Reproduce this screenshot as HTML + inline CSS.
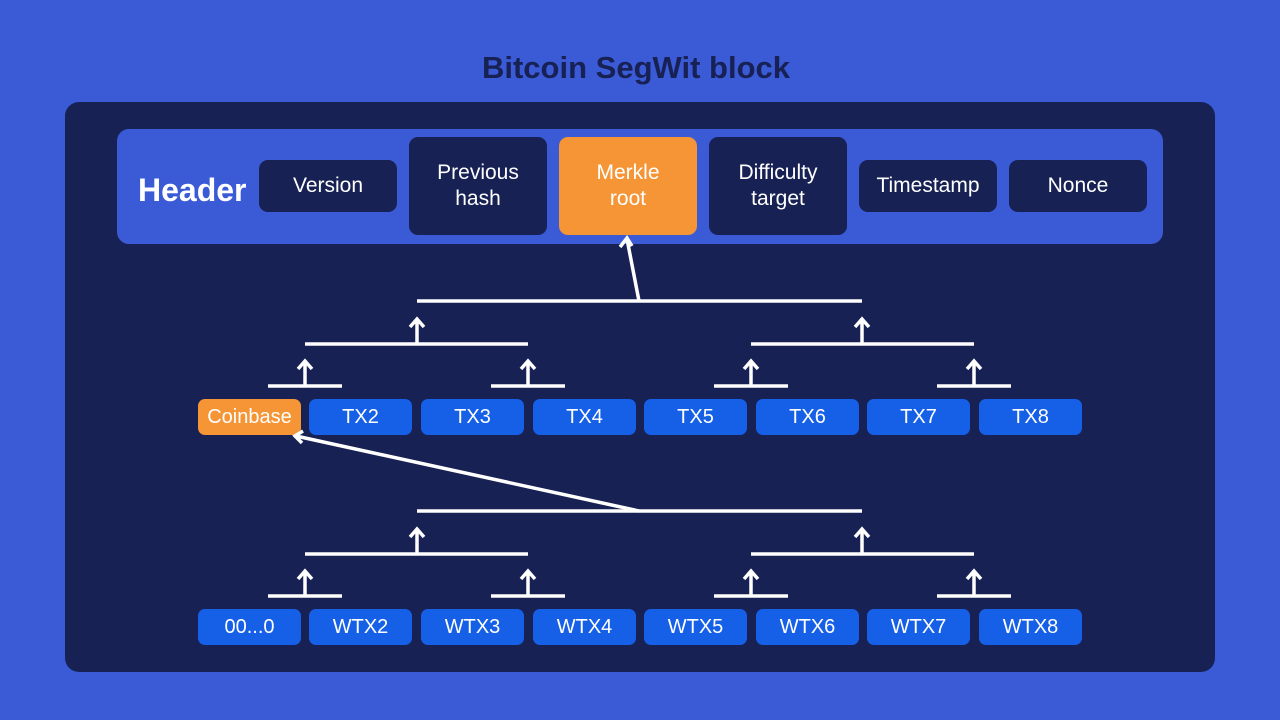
<!DOCTYPE html>
<html><head><style>
body{margin:0;width:1280px;height:720px;background:#3a5ad6;font-family:"Liberation Sans",sans-serif;position:relative;overflow:hidden}
.a{position:absolute}
.t{position:absolute;left:0;width:1272px;top:50px;text-align:center;font-weight:bold;font-size:31px;color:#172154}
.hb{position:absolute;background:#172154;color:#fff;border-radius:9px;display:flex;align-items:center;justify-content:center;text-align:center;font-size:21px;line-height:26px}
.tx{position:absolute;background:#1660e8;color:#fff;border-radius:7px;width:103px;height:36px;display:flex;align-items:center;justify-content:center;font-size:20px}
</style></head><body>
<div class="t">Bitcoin SegWit block</div>
<div class="a" style="left:65px;top:102px;width:1150px;height:570px;background:#172154;border-radius:14px"></div>
<div class="a" style="left:117px;top:129px;width:1046px;height:115px;background:#3a5ad6;border-radius:12px"></div>
<div class="a" style="left:138px;top:172px;color:#fff;font-weight:bold;font-size:32px">Header</div>
<div class="hb" style="left:259px;top:160px;width:138px;height:52px">Version</div>
<div class="hb" style="left:409px;top:137px;width:138px;height:98px">Previous<br>hash</div>
<div class="hb" style="left:559px;top:137px;width:138px;height:98px;background:#f59536">Merkle<br>root</div>
<div class="hb" style="left:709px;top:137px;width:138px;height:98px">Difficulty<br>target</div>
<div class="hb" style="left:859px;top:160px;width:138px;height:52px">Timestamp</div>
<div class="hb" style="left:1009px;top:160px;width:138px;height:52px">Nonce</div>

<div class="tx" style="left:198px;top:399px;background:#f59536">Coinbase</div>
<div class="tx" style="left:309px;top:399px">TX2</div>
<div class="tx" style="left:421px;top:399px">TX3</div>
<div class="tx" style="left:533px;top:399px">TX4</div>
<div class="tx" style="left:644px;top:399px">TX5</div>
<div class="tx" style="left:756px;top:399px">TX6</div>
<div class="tx" style="left:867px;top:399px">TX7</div>
<div class="tx" style="left:979px;top:399px">TX8</div>

<div class="tx" style="left:198px;top:609px">00...0</div>
<div class="tx" style="left:309px;top:609px">WTX2</div>
<div class="tx" style="left:421px;top:609px">WTX3</div>
<div class="tx" style="left:533px;top:609px">WTX4</div>
<div class="tx" style="left:644px;top:609px">WTX5</div>
<div class="tx" style="left:756px;top:609px">WTX6</div>
<div class="tx" style="left:867px;top:609px">WTX7</div>
<div class="tx" style="left:979px;top:609px">WTX8</div>

<svg class="a" style="left:0;top:0" width="1280" height="720" stroke="#fff" stroke-width="3.5" fill="none">
<defs><g id="tree">
<line x1="268" y1="386" x2="342" y2="386"/><line x1="491" y1="386" x2="565" y2="386"/>
<line x1="714" y1="386" x2="788" y2="386"/><line x1="937" y1="386" x2="1011" y2="386"/>
<path d="M305 386V362M298 369L305 361L312 369M528 386V362M521 369L528 361L535 369M751 386V362M744 369L751 361L758 369M974 386V362M967 369L974 361L981 369"/>
<line x1="305" y1="344" x2="528" y2="344"/><line x1="751" y1="344" x2="974" y2="344"/>
<path d="M417 344V320M410 327L417 319L424 327M862 344V320M855 327L862 319L869 327"/>
<line x1="417" y1="301" x2="862" y2="301"/>
</g></defs>
<use href="#tree"/>
<use href="#tree" y="210"/>
<path d="M639 301L627 239M620 247L627 238L632 246"/>
<path d="M639 511L296 436M303 431L295 436L302 443"/>
</svg>
</body></html>
